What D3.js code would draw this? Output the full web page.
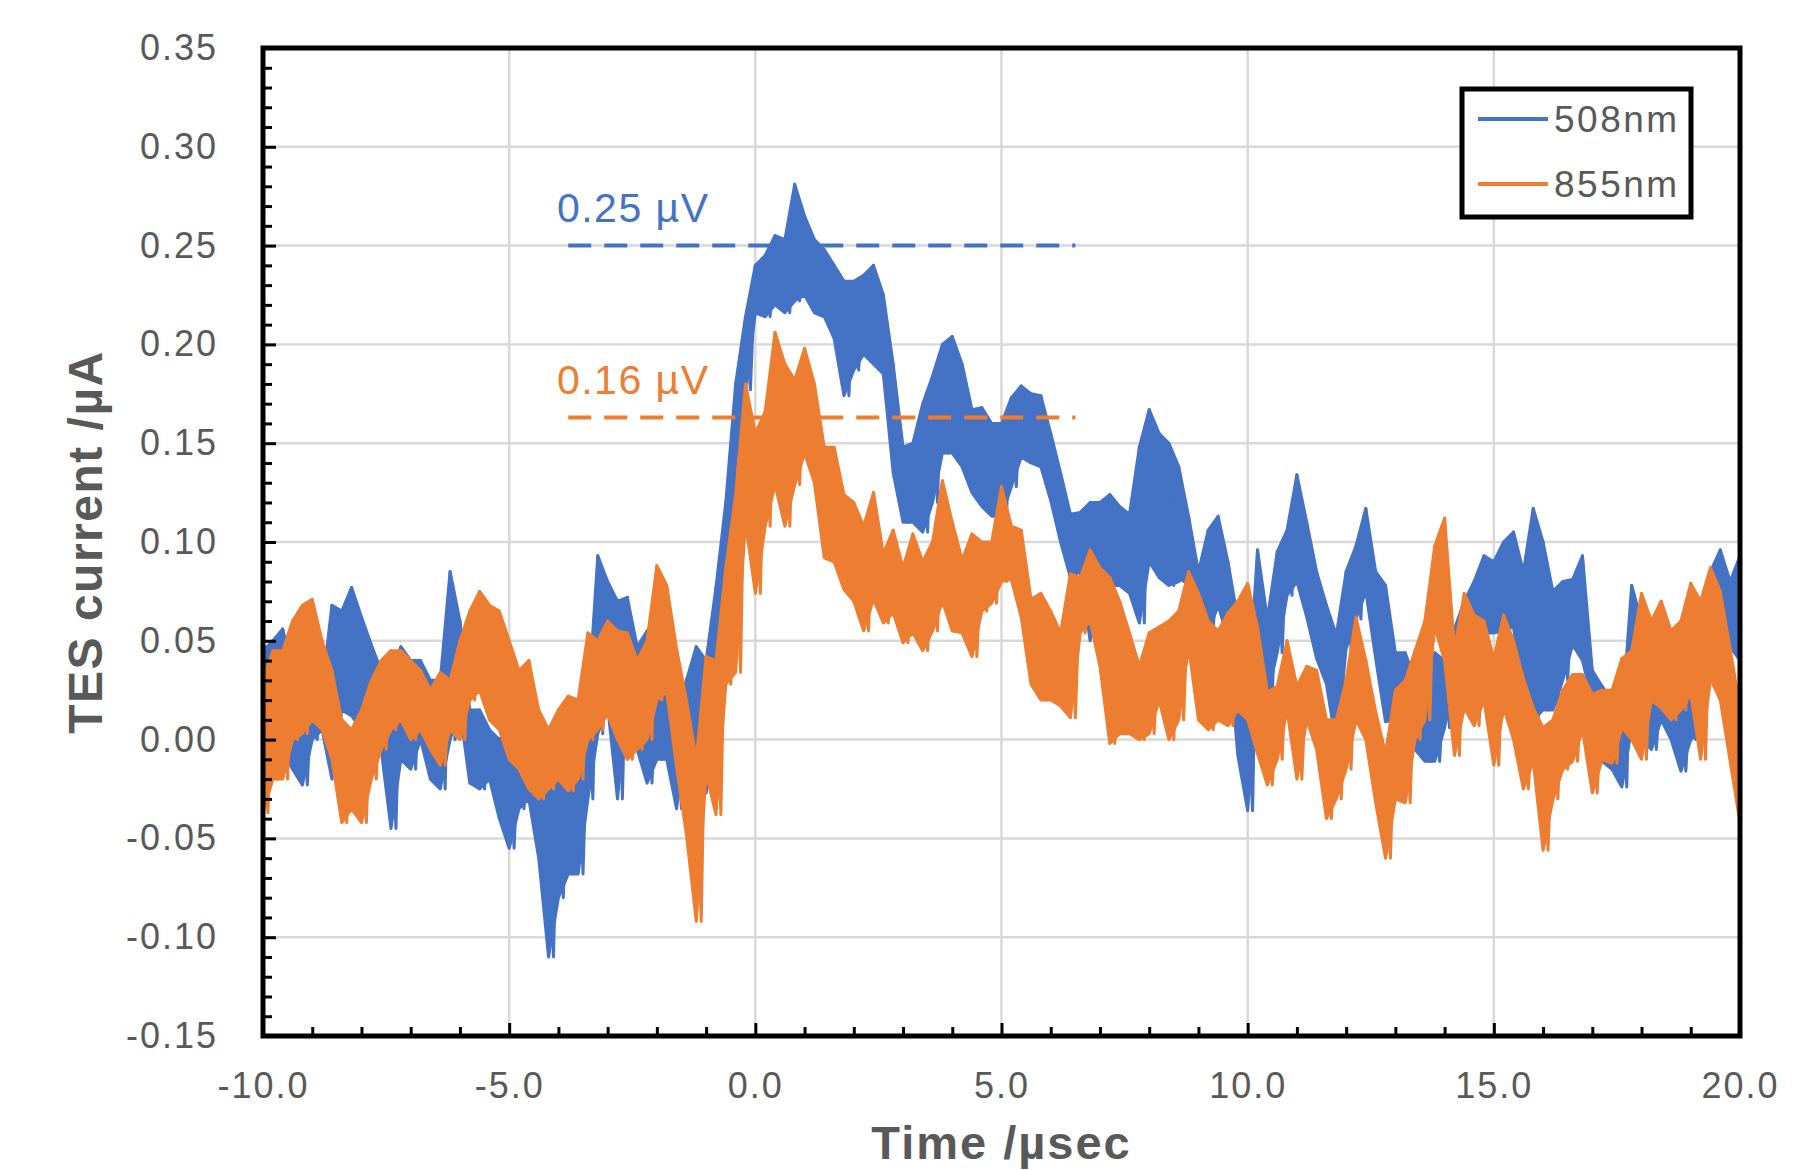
<!DOCTYPE html>
<html>
<head>
<meta charset="utf-8">
<script src="https://cdn.jsdelivr.net/npm/d3@7"></script>
<style>
  body { margin: 0; background: #fff; }
  text { font-family: "Liberation Sans", Arial, sans-serif; fill: #595959; }
</style>
</head>
<body>
<div id="chart"></div>
<script>
// ---- data ----
const xTicks = [-10, -5, 0, 5, 10, 15, 20];
const yTicks = [-0.15, -0.10, -0.05, 0.00, 0.05, 0.10, 0.15, 0.20, 0.25, 0.30, 0.35];
const seriesNames = ['508nm', '855nm'];
const seriesColors = ['#4472C4', '#ED7D31'];

// samples every 0.2 µs from -10 to 20; upper / lower edge of the noisy trace
const T_START = -10, T_STEP = 0.2;
const blueHi = [
  0.045, 0.050, 0.056, 0.035, 0.030, 0.030, 0.025, 0.068, 0.065, 0.077,
  0.062, 0.048, 0.035, 0.030, 0.047, 0.040, 0.040, 0.030, 0.030, 0.085,
  0.060, 0.015, 0.015, 0.005, 0.000, 0.005, 0.000, -0.005, -0.010, -0.020,
  -0.010, 0.000, 0.003, 0.017, 0.093, 0.080, 0.070, 0.072, 0.047, 0.055,
  0.030, 0.047, 0.013, 0.030, 0.047, 0.040, 0.077, 0.120, 0.180, 0.214,
  0.240, 0.245, 0.255, 0.253, 0.281, 0.265, 0.253, 0.248, 0.240, 0.232,
  0.232, 0.235, 0.240, 0.225, 0.190, 0.148, 0.150, 0.170, 0.184, 0.200,
  0.204, 0.190, 0.167, 0.168, 0.160, 0.160, 0.173, 0.179, 0.175, 0.174,
  0.155, 0.135, 0.114, 0.115, 0.120, 0.120, 0.124, 0.118, 0.114, 0.148,
  0.167, 0.155, 0.150, 0.138, 0.113, 0.085, 0.106, 0.113, 0.090, 0.061,
  0.018, 0.096, 0.061, 0.095, 0.106, 0.134, 0.110, 0.085, 0.068, 0.053,
  0.085, 0.098, 0.117, 0.085, 0.078, 0.044, 0.044, 0.030, 0.028, 0.044,
  0.040, 0.056, 0.070, 0.080, 0.093, 0.090, 0.100, 0.105, 0.085, 0.117,
  0.100, 0.075, 0.080, 0.081, 0.093, 0.035, 0.027, 0.020, 0.010, 0.078,
  0.060, 0.040, 0.030, 0.035, 0.025, 0.030, 0.045, 0.085, 0.096, 0.080,
  0.093
];
const blueLo = [
  0.005, 0.015, -0.005, -0.015, -0.023, 0.000, 0.005, -0.020, 0.015, 0.012,
  0.005, 0.005, -0.005, -0.045, -0.010, -0.015, 0.000, -0.020, -0.025, 0.000,
  0.015, -0.022, -0.025, -0.020, -0.040, -0.055, -0.035, -0.030, -0.060, -0.110,
  -0.080, -0.068, -0.068, -0.030, 0.003, 0.017, -0.030, 0.020, -0.005, -0.022,
  -0.010, -0.010, -0.035, 0.003, -0.020, -0.027, 0.000, 0.053, 0.140, 0.177,
  0.216, 0.214, 0.220, 0.216, 0.222, 0.225, 0.216, 0.214, 0.203, 0.174,
  0.187, 0.195, 0.190, 0.185, 0.135, 0.110, 0.110, 0.105, 0.120, 0.145,
  0.145, 0.138, 0.125, 0.118, 0.113, 0.113, 0.128, 0.143, 0.140, 0.138,
  0.121, 0.100, 0.082, 0.085, 0.050, 0.084, 0.078, 0.078, 0.074, 0.059,
  0.090, 0.082, 0.078, 0.080, 0.083, 0.046, 0.054, 0.068, 0.051, -0.008,
  -0.036, 0.030, 0.022, 0.044, 0.073, 0.080, 0.062, 0.041, 0.028, -0.003,
  0.046, 0.061, 0.075, 0.041, 0.009, 0.010, -0.001, -0.005, -0.011, -0.011,
  0.006, 0.030, 0.035, 0.047, 0.054, 0.054, 0.055, 0.057, 0.020, 0.010,
  0.015, 0.015, 0.030, 0.048, 0.040, 0.020, -0.011, -0.015, -0.024, 0.006,
  0.000, -0.005, 0.010, 0.000, -0.016, 0.000, 0.005, 0.030, 0.057, 0.047,
  0.040
];
const orangeHi = [
  0.030, 0.045, 0.045, 0.060, 0.068, 0.071, 0.050, 0.035, 0.010, 0.005,
  0.015, 0.030, 0.040, 0.045, 0.045, 0.040, 0.035, 0.025, 0.034, 0.030,
  0.050, 0.065, 0.075, 0.068, 0.065, 0.050, 0.035, 0.040, 0.015, 0.005,
  0.015, 0.022, 0.020, 0.054, 0.050, 0.060, 0.055, 0.054, 0.040, 0.050,
  0.088, 0.078, 0.046, 0.020, -0.010, 0.042, 0.040, 0.087, 0.124, 0.180,
  0.155, 0.166, 0.206, 0.190, 0.182, 0.198, 0.180, 0.148, 0.148, 0.124,
  0.120, 0.108, 0.125, 0.094, 0.106, 0.087, 0.104, 0.090, 0.100, 0.131,
  0.110, 0.091, 0.104, 0.100, 0.100, 0.128, 0.108, 0.106, 0.071, 0.074,
  0.065, 0.054, 0.084, 0.082, 0.096, 0.087, 0.082, 0.070, 0.054, 0.037,
  0.054, 0.057, 0.060, 0.065, 0.085, 0.074, 0.060, 0.055, 0.064, 0.070,
  0.079, 0.057, 0.024, 0.027, 0.050, 0.027, 0.037, 0.035, 0.010, 0.010,
  0.030, 0.062, 0.040, 0.014, -0.007, 0.025, 0.030, 0.045, 0.060, 0.098,
  0.112, 0.046, 0.074, 0.063, 0.060, 0.041, 0.063, 0.050, 0.031, 0.016,
  0.006, 0.010, 0.025, 0.033, 0.033, 0.023, 0.025, 0.025, 0.041, 0.045,
  0.074, 0.060, 0.070, 0.055, 0.060, 0.079, 0.070, 0.087, 0.075, 0.046,
  0.016
];
const orangeLo = [
  -0.037, -0.020, -0.020, 0.000, 0.003, 0.010, 0.005, -0.010, -0.042, -0.035,
  -0.042, -0.020, -0.005, 0.005, 0.010, 0.000, 0.005, -0.005, -0.013, 0.005,
  0.000, 0.020, 0.025, 0.010, 0.005, -0.010, -0.015, -0.025, -0.030, -0.025,
  -0.020, -0.026, -0.020, 0.000, 0.005, 0.013, 0.000, -0.010, -0.005, 0.000,
  0.020, 0.024, -0.014, -0.048, -0.092, -0.017, -0.038, 0.028, 0.034, 0.110,
  0.074, 0.108, 0.129, 0.108, 0.129, 0.145, 0.130, 0.092, 0.090, 0.076,
  0.070, 0.055, 0.071, 0.059, 0.064, 0.049, 0.054, 0.045, 0.055, 0.070,
  0.055, 0.054, 0.042, 0.065, 0.069, 0.080, 0.081, 0.062, 0.028, 0.020,
  0.020, 0.017, 0.011, 0.054, 0.060, 0.037, -0.002, 0.003, 0.003, 0.000,
  0.003, 0.020, 0.000, 0.010, 0.047, 0.010, 0.005, 0.010, 0.007, 0.015,
  0.010, -0.007, -0.023, -0.010, 0.015, -0.020, 0.010, -0.005, -0.040, -0.030,
  -0.015, 0.010, 0.000, -0.032, -0.060, -0.030, -0.032, 0.000, 0.010, 0.057,
  0.040, -0.008, 0.016, 0.007, 0.020, -0.013, 0.016, 0.000, -0.025, -0.011,
  -0.056, -0.030, -0.015, -0.011, 0.005, -0.027, -0.010, -0.012, 0.006, 0.000,
  -0.010, 0.020, 0.016, 0.010, 0.015, 0.023, -0.010, 0.031, 0.020, -0.011,
  -0.042
];

// peak markers
const peakLevels = [0.25, 0.163];
const peakLabels = ['0.25 µV', '0.16 µV'];
const peakSpan = [-3.8, 6.5];
const peakLabelT = -4.03;

// ---- layout ----
const W = 1799, H = 1170;
const pad = {l: 263, r: W - 1740, t: 48, b: H - 1036};
const iw = W - pad.l - pad.r;
const ih = H - pad.t - pad.b;

const svg = d3.select('#chart').append('svg')
  .attr('width', W)
  .attr('height', H);

const chart = svg.append('g')
  .attr('transform', `translate(${pad.l}, ${pad.t})`);

const x = d3.scaleLinear().domain([-10, 20]).range([0, iw]);
const y = d3.scaleLinear().domain([-0.15, 0.35]).range([ih, 0]);

// gridlines
chart.append('g').selectAll('line')
  .data(xTicks.slice(1, -1))
  .join('line')
  .attr('x1', d => x(d)).attr('x2', d => x(d))
  .attr('y1', 0).attr('y2', ih)
  .attr('stroke', '#d9d9d9').attr('stroke-width', 2.5);
chart.append('g').selectAll('line')
  .data(yTicks.slice(1, -1))
  .join('line')
  .attr('x1', 0).attr('x2', iw)
  .attr('y1', d => y(d)).attr('y2', d => y(d))
  .attr('stroke', '#d9d9d9').attr('stroke-width', 2.5);

// traces: a filled band between the edges plus the jagged noise line on top
chart.append('clipPath').attr('id', 'plotclip')
  .append('rect').attr('width', iw).attr('height', ih);

const times = blueHi.map((_, i) => T_START + i * T_STEP);
const bands = [
  times.map((t, i) => ({t, hi: blueHi[i], lo: blueLo[i]})),
  times.map((t, i) => ({t, hi: orangeHi[i], lo: orangeLo[i]})),
];
const zigzag = band => band.flatMap(d => [[d.t, d.hi], [d.t + T_STEP / 2, d.lo]]);

const area = d3.area()
  .x(d => x(d.t))
  .y0(d => y(d.lo))
  .y1(d => y(d.hi));
const line = d3.line().x(d => x(d[0])).y(d => y(d[1]));

const traceG = chart.append('g').attr('clip-path', 'url(#plotclip)');
bands.forEach((band, i) => {
  const g = traceG.append('g');
  g.append('path')
    .attr('d', area(band))
    .attr('fill', seriesColors[i])
    .attr('stroke', seriesColors[i])
    .attr('stroke-width', 3)
    .attr('stroke-linejoin', 'round');
  g.append('path')
    .attr('d', line(zigzag(band)))
    .attr('fill', 'none')
    .attr('stroke', seriesColors[i])
    .attr('stroke-width', 3)
    .attr('stroke-linejoin', 'round');
});

// peak markers
chart.append('g').selectAll('line')
  .data(peakLevels)
  .join('line')
  .attr('x1', x(peakSpan[0])).attr('x2', x(peakSpan[1]))
  .attr('y1', d => y(d)).attr('y2', d => y(d))
  .attr('stroke', (d, i) => seriesColors[i])
  .attr('stroke-width', 4)
  .attr('stroke-dasharray', '23,13');
chart.append('g').selectAll('text')
  .data(peakLevels)
  .join('text')
  .attr('x', x(peakLabelT))
  .attr('y', d => y(d) - 24)
  .style('fill', (d, i) => seriesColors[i])
  .style('font-size', '41px')
  .style('letter-spacing', '1.5px')
  .text((d, i) => peakLabels[i]);

// axes (ticks inward, frame drawn separately)
const minorX = d3.range(-9, 20, 1).filter(d => !xTicks.includes(d));
const minorY = d3.range(-14, 35, 1).map(d => d / 100).filter(d => Math.round(d * 100) % 5 !== 0);

const styleAxis = g => {
  g.select('.domain').remove();
  g.selectAll('.tick line').attr('stroke', '#000').attr('stroke-width', 3);
  g.selectAll('.tick text')
    .attr('font-family', null).attr('font-size', null)
    .style('font-size', '36px').style('letter-spacing', '2px');
};

chart.append('g')
  .attr('transform', `translate(0, ${ih})`)
  .call(d3.axisBottom(x).tickValues(minorX).tickFormat('').tickSizeInner(-9).tickSizeOuter(0))
  .call(styleAxis);
chart.append('g')
  .attr('transform', `translate(0, ${ih})`)
  .call(d3.axisBottom(x).tickValues(xTicks).tickFormat(d => d.toFixed(1))
    .tickSizeInner(-13).tickSizeOuter(0).tickPadding(36))
  .call(styleAxis);

chart.append('g')
  .call(d3.axisLeft(y).tickValues(minorY).tickFormat('').tickSizeInner(-9).tickSizeOuter(0))
  .call(styleAxis);
chart.append('g')
  .call(d3.axisLeft(y).tickValues(yTicks).tickFormat(d => d.toFixed(2))
    .tickSizeInner(-13).tickSizeOuter(0).tickPadding(45))
  .call(styleAxis);

// frame
chart.append('rect')
  .attr('x', 0).attr('y', 0)
  .attr('width', iw).attr('height', ih)
  .attr('fill', 'none')
  .attr('stroke', '#000')
  .attr('stroke-width', 5);

// axis titles
svg.append('text')
  .attr('x', pad.l + x(5))
  .attr('y', 1159)
  .attr('text-anchor', 'middle')
  .style('font-size', '47px')
  .style('font-weight', 'bold')
  .style('letter-spacing', '2px')
  .text('Time /µsec');

svg.append('text')
  .attr('transform', `translate(102, ${pad.t + y(0.1)}) rotate(-90)`)
  .attr('text-anchor', 'middle')
  .style('font-size', '48px')
  .style('font-weight', 'bold')
  .style('letter-spacing', '1.5px')
  .text('TES current /µA');

// legend
const lg = svg.append('g').attr('transform', 'translate(1462, 89)');
lg.append('rect')
  .attr('width', 229).attr('height', 128)
  .attr('fill', '#fff')
  .attr('stroke', '#000')
  .attr('stroke-width', 5);
const items = lg.selectAll('g')
  .data(seriesNames)
  .join('g')
  .attr('transform', (d, i) => `translate(0, ${30 + i * 65})`);
items.append('line')
  .attr('x1', 16).attr('x2', 86)
  .attr('stroke', (d, i) => seriesColors[i])
  .attr('stroke-width', 4);
items.append('text')
  .attr('x', 92)
  .attr('y', 13)
  .style('font-size', '37px')
  .style('letter-spacing', '2.5px')
  .text(d => d);
</script>
</body>
</html>
